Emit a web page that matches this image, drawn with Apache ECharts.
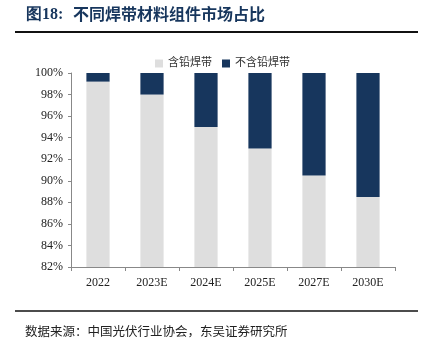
<!DOCTYPE html>
<html>
<head>
<meta charset="utf-8">
<script src="https://cdn.jsdelivr.net/npm/echarts@6/dist/echarts.min.js"></script>
<style>
  html, body { margin: 0; padding: 0; background: #fff; }
  #chart { width: 430px; height: 345px; }
</style>
</head>
<body>
<div id="chart"></div>
<script>
// Market share of modules by ribbon material (%)
const years = ['2022', '2023E', '2024E', '2025E', '2027E', '2030E'];
const leadRibbon = [99.2, 98, 95, 93, 90.5, 88.5];
const leadFreeRibbon = [0.8, 2, 5, 7, 9.5, 11.5];
const seriesNames = ['含铅焊带', '不含铅焊带'];

const NAVY = '#17365d';
const LIGHT = '#dedede';
const serif = '"Liberation Serif", "Times New Roman", serif';
const cjk = '"Liberation Serif", "Noto Sans CJK SC", serif';

const chart = echarts.init(document.getElementById('chart'), null, { renderer: 'canvas' });

chart.setOption({
  animation: false,
  backgroundColor: '#fff',
  graphic: [
    {
      type: 'text', left: 26, top: 7,
      style: { text: '图18:', font: 'bold 16px ' + serif, fill: NAVY }
    },
    {
      type: 'text', left: 73, top: 6,
      style: { text: '不同焊带材料组件市场占比', font: 'bold 16px "Noto Sans CJK SC"', fill: NAVY }
    },
    {
      type: 'line', shape: { x1: 15, y1: 32, x2: 418, y2: 32 },
      style: { stroke: '#111', lineWidth: 2 }
    },
    {
      type: 'line', shape: { x1: 15, y1: 311, x2: 418, y2: 311 },
      style: { stroke: '#111', lineWidth: 1.5 }
    },
    {
      type: 'text', left: 25, top: 325,
      style: { text: '数据来源：中国光伏行业协会，东吴证券研究所', font: '12.5px "Noto Sans CJK SC"', fill: '#222' }
    }
  ],
  legend: {
    top: 53,
    left: 150,
    itemWidth: 8,
    itemHeight: 8,
    itemGap: 10,
    icon: 'rect',
    textStyle: { fontSize: 11, fontFamily: cjk, color: '#333' },
    data: seriesNames
  },
  grid: { left: 71, right: 35, top: 73, bottom: 78 },
  xAxis: {
    type: 'category',
    data: years,
    axisLine: { lineStyle: { color: '#888', width: 1 } },
    axisTick: { show: true, length: 4, alignWithLabel: false, lineStyle: { color: '#888' } },
    axisLabel: { fontFamily: serif, fontSize: 12, color: '#222', margin: 10 }
  },
  yAxis: {
    type: 'value',
    min: 82,
    max: 100,
    interval: 2,
    axisLine: { show: true, lineStyle: { color: '#888', width: 1 } },
    axisTick: { show: true, length: 3, lineStyle: { color: '#888' } },
    splitLine: { show: false },
    axisLabel: { fontFamily: serif, fontSize: 12, color: '#222', margin: 8, formatter: '{value}%' }
  },
  series: [
    {
      name: seriesNames[0],
      type: 'bar',
      stack: 'share',
      barWidth: '43%',
      itemStyle: { color: LIGHT },
      data: leadRibbon
    },
    {
      name: seriesNames[1],
      type: 'bar',
      stack: 'share',
      barWidth: '43%',
      itemStyle: { color: NAVY },
      data: leadFreeRibbon
    }
  ]
});
</script>
</body>
</html>
